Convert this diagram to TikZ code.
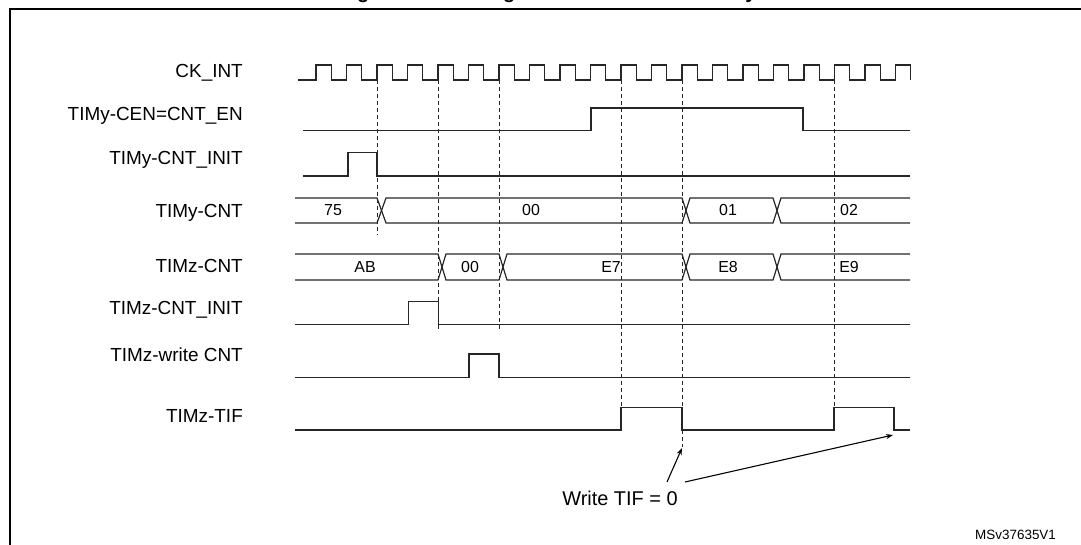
\documentclass[tikz,border=0pt]{standalone}
\usepackage{fontspec}
\setmainfont{Liberation Sans}
\usetikzlibrary{arrows.meta}
\begin{document}
\begin{tikzpicture}[x=1bp,y=-1bp,
  sig/.style={line width=1.2bp,black!85},
  guide/.style={line width=1bp,dash pattern=on 4bp off 3bp,black!85},
  lbl/.style={anchor=east,inner sep=0pt,font=\fontsize{19}{21}\selectfont},
  val/.style={inner sep=0pt,font=\fontsize{16}{18}\selectfont},
  arr/.style={line width=1.1bp,-{Stealth[length=7bp,width=5bp]}}]
\useasboundingbox (0,0) rectangle (1081,545);
% frame and title
\draw[line width=1.5bp] (10,560) -- (10,9) -- (1100,9);
\node[font=\bfseries\fontsize{20}{22}\selectfont,anchor=base] (title) at (548,-1) {Figure 180. Gating TIMz with Enable of TIMy};
% labels
\node[lbl] (l1) at (243,73) {CK\_INT};
\node[lbl] (l2) at (243,116) {TIMy-CEN=CNT\_EN};
\node[lbl] (l3) at (243,160) {TIMy-CNT\_INIT};
\node[lbl] (l4) at (243,213) {TIMy-CNT};
\node[lbl] (l5) at (243,266) {TIMz-CNT};
\node[lbl] (l6) at (243,310) {TIMz-CNT\_INIT};
\node[lbl] (l7) at (243,355) {TIMz-write CNT};
\node[lbl] (l8) at (243,416) {TIMz-TIF};
% dashed guides
\draw[guide] (377,80) -- (377,235);
\draw[guide] (438.5,80) -- (438.5,331);
\draw[guide] (499,80) -- (499,332);
\draw[guide] (621,80) -- (621,430);
\draw[guide] (682,80) -- (682,447);
\draw[guide] (834,80) -- (834,430);
% clock
\draw[sig] (298,80) foreach \k in {0,...,19}{ -- ({316+30.5*\k},80) -- ({316+30.5*\k},65) -- ({331.25+30.5*\k},65) -- ({331.25+30.5*\k},80) };
% CEN
\draw[sig] (303,130.5) -- (591,130.5) -- (591,108) -- (803,108) -- (803,130.5) -- (910,130.5);
% TIMy-CNT_INIT
\draw[sig] (303,176) -- (348,176) -- (348,152.5) -- (377,152.5) -- (377,176) -- (910,176);
% TIMy-CNT bus
\draw[sig] (295,198) -- (377,198) -- (386,223) -- (682,223) -- (690,198) -- (773,198) -- (781,223) -- (910,223);
\draw[sig] (295,223) -- (377,223) -- (386,198) -- (682,198) -- (690,223) -- (773,223) -- (781,198) -- (910,198);
\node[val] (y75) at (333,210.5) {75};
\node[val] (y00) at (531,210.5) {00};
\node[val] (y01) at (728,210.5) {01};
\node[val] (y02) at (849,210.5) {02};
% TIMz-CNT bus
\draw[sig] (295,254) -- (438,254) -- (446,280) -- (499,280) -- (507,254) -- (682,254) -- (690,280) -- (773,280) -- (781,254) -- (910,254);
\draw[sig] (295,280) -- (438,280) -- (446,254) -- (499,254) -- (507,280) -- (682,280) -- (690,254) -- (773,254) -- (781,280) -- (910,280);
\node[val] (zab) at (365,267) {AB};
\node[val] (z00) at (470,267) {00};
\node[val] (ze7) at (611,267) {E7};
\node[val] (ze8) at (728,267) {E8};
\node[val] (ze9) at (849,267) {E9};
% TIMz-CNT_INIT
\draw[sig] (295,324.5) -- (408.5,324.5) -- (408.5,301.5) -- (438.5,301.5) -- (438.5,324.5) -- (910,324.5);
% write CNT
\draw[sig] (295,377.5) -- (469,377.5) -- (469,354) -- (499,354) -- (499,377.5) -- (910,377.5);
% TIF
\draw[sig] (295,430) -- (621,430) -- (621,407.5) -- (682,407.5) -- (682,430) -- (834,430) -- (834,407.5) -- (894,407.5) -- (894,430) -- (910,430);
% annotation
\node[inner sep=1bp,font=\fontsize{20}{22}\selectfont] (wt) at (620,498) {Write TIF = 0};
\coordinate (t1) at (682,448);
\coordinate (t2) at (893,435);
\draw[arr] (667,482) -- (t1);
\draw[arr] (685,482) -- (t2);
\node[anchor=west,inner sep=0pt,font=\fontsize{13.5}{15}\selectfont] (ms) at (975,535) {MSv37635V1};
\end{tikzpicture}
\end{document}
